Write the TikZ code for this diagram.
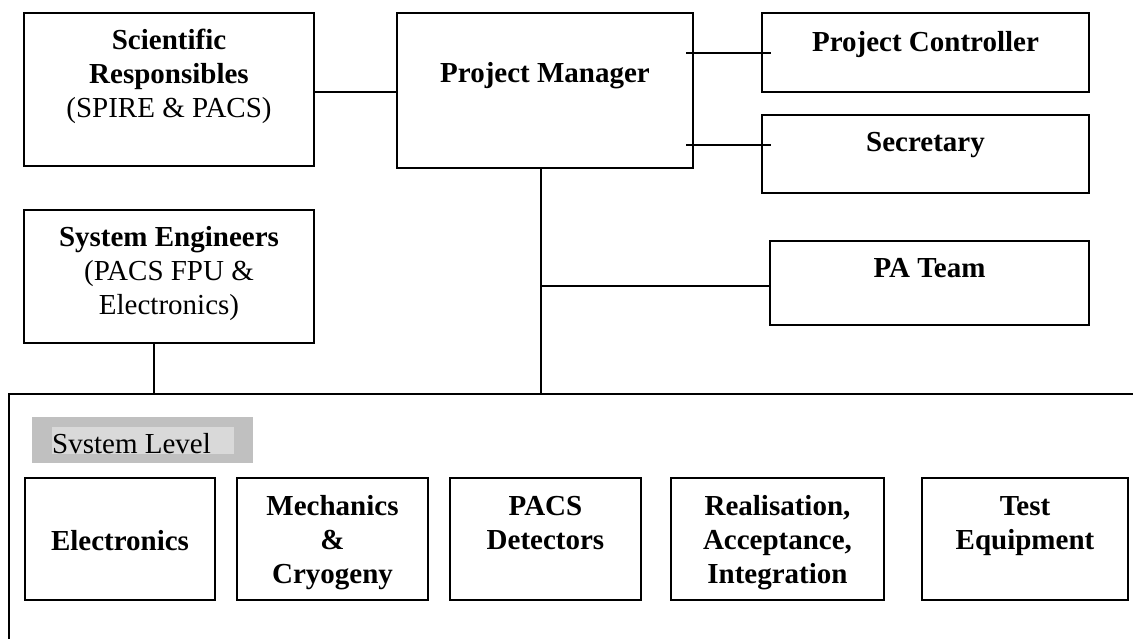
\documentclass[tikz,border=0pt]{standalone}
\usepackage{fontspec}
\setmainfont{Liberation Serif}
\newcommand{\mlines}[1]{\begin{tabular}[t]{@{}c@{}}#1\end{tabular}}
\definecolor{lblouter}{RGB}{192,192,192}
\definecolor{lblinner}{RGB}{217,217,217}
\begin{document}
\begin{tikzpicture}[x=1pt,y=-1pt,
  box/.style={draw=black,line width=1.8pt,anchor=north west,inner sep=0pt,outer sep=0pt},
  flat/.style={anchor=north west,inner sep=0pt,outer sep=0pt},
  txt/.style={anchor=base,inner sep=0pt,font=\fontsize{29}{34}\selectfont\bfseries},
  rtxt/.style={anchor=base west,inner sep=0pt,font=\fontsize{29}{34}\selectfont},
  conn/.style={line width=1.8pt}]
\useasboundingbox (0,0) rectangle (1133,639);

% boxes
\node[box,minimum width=290pt,minimum height=153pt] (sr) at (24,13) {};
\node[box,minimum width=296pt,minimum height=155pt] (pm) at (397,13) {};
\node[box,minimum width=327pt,minimum height=79pt] (pc) at (762,13) {};
\node[box,minimum width=327pt,minimum height=78pt] (sec) at (762,115) {};
\node[box,minimum width=319pt,minimum height=84pt] (pa) at (770,241) {};
\node[box,minimum width=290pt,minimum height=133pt] (se) at (24,210) {};
\node[box,minimum width=190pt,minimum height=122pt] (el) at (25,478) {};
\node[box,minimum width=191pt,minimum height=122pt] (me) at (237,478) {};
\node[box,minimum width=191pt,minimum height=122pt] (pd) at (450,478) {};
\node[box,minimum width=213pt,minimum height=122pt] (ra) at (671,478) {};
\node[box,minimum width=206pt,minimum height=122pt] (te) at (922,478) {};

% texts
\node[txt] (srt) at (169,50) {\mlines{Scientific\\Responsibles\\\mdseries(SPIRE \& PACS)}};
\node[txt] (pmt) at (545,83) {Project Manager};
\node[txt] (pct) at (925.5,52) {Project Controller};
\node[txt] (sect) at (925.5,152) {Secretary};
\node[txt] (pat) at (929.5,278) {PA Team};
\node[txt] (set) at (169,247) {\mlines{System Engineers\\\mdseries(PACS FPU \&\\\mdseries Electronics)}};
\node[txt] (elt) at (120,550) {Electronics};
\node[txt] (met) at (332.5,515) {\mlines{Mechanics\\\&\\Cryogeny}};
\node[txt] (pdt) at (545.5,515) {\mlines{PACS\\Detectors}};
\node[txt] (rat) at (777.5,515) {\mlines{Realisation,\\Acceptance,\\Integration}};
\node[txt] (tet) at (1025,515) {\mlines{Test\\Equipment}};

% system level area
\coordinate (sys) at (9,394);
\draw[conn] (1133,394) -- (sys) -- (9,639);
\node[flat,fill=lblouter,minimum width=221pt,minimum height=46pt] (slo) at (32,417) {};
\node[flat,fill=lblinner,minimum width=182pt,minimum height=27pt] (sli) at (52,427) {};
\node[rtxt] (slt) at (52,453) {Svstem Level};

% connectors
\coordinate (ysr) at (0,92);
\coordinate (ypc) at (0,53);
\coordinate (ysec) at (0,145);
\coordinate (ypa) at (0,286);
\coordinate (xpm) at (541,0);
\coordinate (xse) at (154,0);
\draw[conn] (sr.east |- ysr) -- (pm.west |- ysr);
\draw[conn] ([xshift=-7pt]pm.east |- ypc) -- ([xshift=9pt]pc.west |- ypc);
\draw[conn] ([xshift=-7pt]pm.east |- ysec) -- ([xshift=9pt]sec.west |- ysec);
\draw[conn] (xpm |- pm.south) -- (xpm |- sys);
\draw[conn] (xpm |- ypa) -- (pa.west |- ypa);
\draw[conn] (xse |- se.south) -- (xse |- sys);
\end{tikzpicture}
\end{document}
